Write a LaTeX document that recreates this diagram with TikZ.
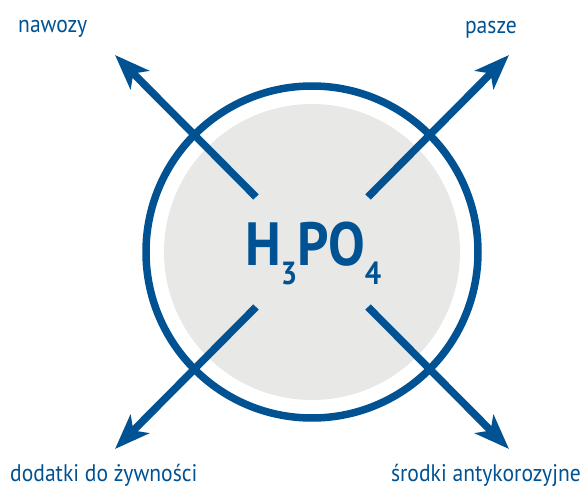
\documentclass[tikz,border=0pt]{standalone}
\usepackage{fontspec}
\setmainfont{PT Sans}[FakeStretch=0.9]
\newfontfamily\formulafont{PT Sans}[FakeStretch=0.9]
\usetikzlibrary{arrows.meta}
\definecolor{acidblue}{RGB}{0,82,147}
\definecolor{acidgray}{RGB}{232,232,230}

\begin{document}
\begin{tikzpicture}[x=1pt,y=-1pt]
    \useasboundingbox (0,0) rectangle (582,487);
    \def\starts{256/197,368/197,256/307,368/307}
    \def\tips{115/55,509/55,115/449,509/449}
    %          nawozy  pasze  dodatki  srodki
    \fill[acidgray] (312,252) circle[radius=148];
    \draw[acidblue,line width=7.5pt] (312,252) circle[radius=166];
    \node[acidblue,inner sep=0,anchor=base west,font=\formulafont\bfseries\fontsize{61}{61}\selectfont] (acid) at (245,265)
        {H\raisebox{-20pt}{\fontsize{32}{32}\selectfont 3}PO\raisebox{-20pt}{\fontsize{32}{32}\selectfont 4}};
    \foreach \px/\py [count=\i from 1] in \starts {\coordinate (s\i) at (\px,\py);}
    \foreach \px/\py [count=\i from 1] in \tips {\coordinate (t\i) at (\px,\py);}
    \foreach \i in {1,...,4} {\draw[acidblue,line width=7.5pt,-{Stealth[length=35pt,width=26pt,inset=9pt]}] (s\i)--(t\i);}
    \node[acidblue,inner sep=0,anchor=base west,font=\fontsize{24}{24}\selectfont] (l1) at (18,33) {nawozy};
    \node[acidblue,inner sep=0,anchor=base east,font=\fontsize{24}{24}\selectfont] (l2) at (517,34) {pasze};
    \node[acidblue,inner sep=0,anchor=base west,font=\fontsize{24}{24}\selectfont] (l3) at (10,481) {dodatki do żywności};
    \node[acidblue,inner sep=0,anchor=base east,font=\fontsize{24}{24}\selectfont] (l4) at (581,481) {środki antykorozyjne};
\end{tikzpicture}
\end{document}
